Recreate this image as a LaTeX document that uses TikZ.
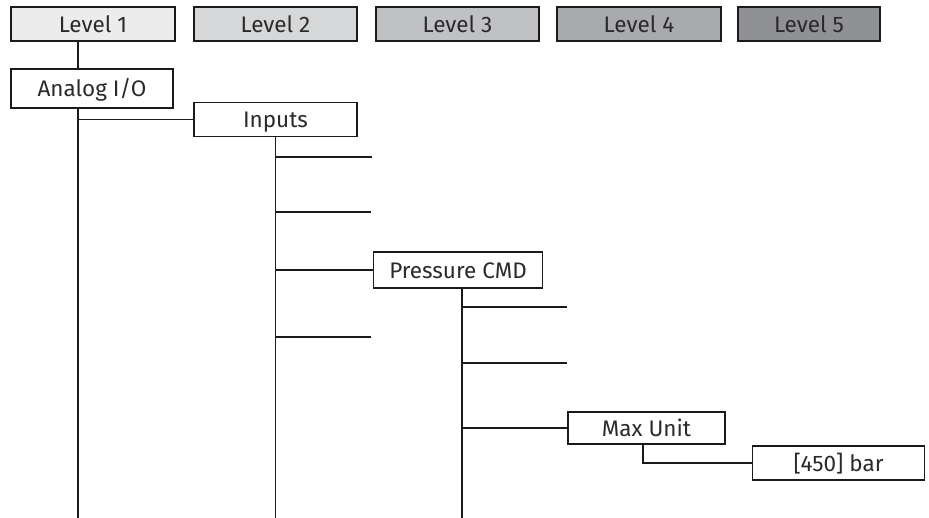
\documentclass[tikz,border=0pt]{standalone}
\usepackage{fontspec}
\setmainfont{Fira Sans}
\usetikzlibrary{calc}
\definecolor{txt}{HTML}{2A2A2A}
\definecolor{ln}{HTML}{1A1A1A}
\definecolor{lvA}{HTML}{ECECED}
\definecolor{lvB}{HTML}{D6D7D9}
\definecolor{lvC}{HTML}{C0C1C4}
\definecolor{lvD}{HTML}{A9AAAD}
\definecolor{lvE}{HTML}{909195}
\tikzset{
  box/.style={draw=ln, line width=1.4pt, rectangle, inner sep=0pt, fill=white,
    text=txt, font=\fontsize{22.5}{24}\selectfont, text height=17pt, text depth=0pt},
  lvl/.style={box, minimum height=34pt},
  wire/.style={draw=ln, line width=1.4pt}
}
\begin{document}
\begin{tikzpicture}[x=1pt,y=-1pt]
\useasboundingbox (0,0) rectangle (929,518);
% level header
\node[lvl, fill=lvA, minimum width=164pt] (l1) at (93,24) {Level 1};
\node[lvl, fill=lvB, minimum width=163pt] (l2) at (275.5,24) {Level 2};
\node[lvl, fill=lvC, minimum width=163pt] (l3) at (457.5,24) {Level 3};
\node[lvl, fill=lvD, minimum width=164pt] (l4) at (639,24) {Level 4};
\node[lvl, fill=lvE, minimum width=142pt] (l5) at (809,24) {Level 5};
% tree nodes
\node[box, minimum width=162pt, minimum height=39pt] (ana) at (92,88.5) {Analog I/O};
\node[box, minimum width=163pt, minimum height=34pt] (inp) at (275.5,119.5) {Inputs};
\node[box, minimum width=169pt, minimum height=36pt] (pc) at (458,270) {Pressure CMD};
\node[box, minimum width=157pt, minimum height=32pt] (mu) at (646.5,428) {Max Unit};
\node[box, minimum width=172pt, minimum height=34pt] (bar) at (838.5,463) {[450] bar};
% helper coordinates
\coordinate (t1) at (78,0);
\coordinate (bot) at (0,518);
\coordinate (s1) at (372,157);
\coordinate (s2) at (371,212);
\coordinate (s4) at (371,337);
\coordinate (pv) at (462,0);
\coordinate (p1) at (567,307);
\coordinate (p2) at (567,363);
\coordinate (mv) at (643,0);
% level 1 spine
\draw[wire] (l1.south -| t1) -- (ana.north -| t1);
\draw[wire] (ana.south -| t1) -- (t1 |- bot);
\draw[wire] (t1 |- inp.west) -- (inp.west);
% level 2 spine
\draw[wire] (inp.south) -- (inp.south |- bot);
\draw[wire] (inp.south |- s1) -- (s1);
\draw[wire] (inp.south |- s2) -- (s2);
\draw[wire] (inp.south |- pc.west) -- (pc.west);
\draw[wire] (inp.south |- s4) -- (s4);
% level 3 spine
\draw[wire] (pc.south -| pv) -- (pv |- bot);
\draw[wire] (pv |- p1) -- (p1);
\draw[wire] (pv |- p2) -- (p2);
\draw[wire] (pv |- mu.west) -- (mu.west);
% level 4
\draw[wire] (mu.south -| mv) -- (mv |- bar.west) -- (bar.west);
\end{tikzpicture}
\end{document}
